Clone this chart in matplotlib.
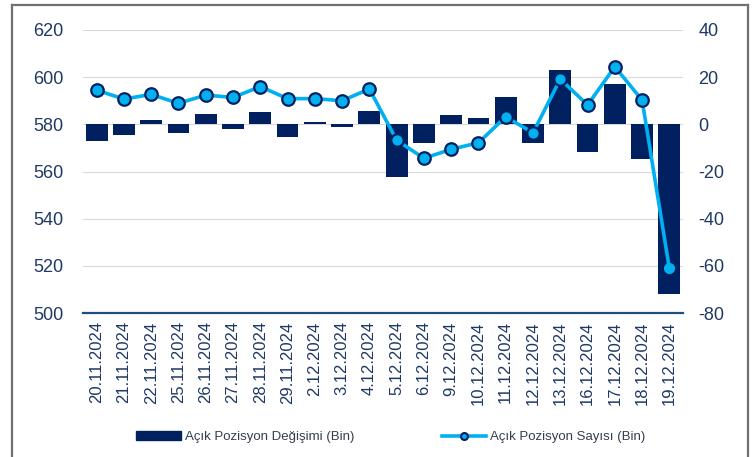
import matplotlib.pyplot as plt
from matplotlib.lines import Line2D
from matplotlib.patches import Patch

DATES = [
    "20.11.2024", "21.11.2024", "22.11.2024", "25.11.2024", "26.11.2024",
    "27.11.2024", "28.11.2024", "29.11.2024", "2.12.2024", "3.12.2024",
    "4.12.2024", "5.12.2024", "6.12.2024", "9.12.2024", "10.12.2024",
    "11.12.2024", "12.12.2024", "13.12.2024", "16.12.2024", "17.12.2024",
    "18.12.2024", "19.12.2024",
]
# Açık Pozisyon Değişimi (Bin) - right axis
CHANGE = [-7.1, -4.4, 2.0, -3.7, 4.5, -2.1, 5.1, -5.5, 1.1, -1.2, 5.6,
          -22.2, -8.1, 3.9, 2.8, 11.7, -7.8, 23.0, -11.6, 17.1, -14.7, -72.0]
# Açık Pozisyon Sayısı (Bin) - left axis
COUNT = [594.5, 590.7, 592.7, 588.9, 592.4, 591.4, 596.0, 590.9, 590.9, 590.0,
         595.0, 573.3, 565.6, 569.4, 572.2, 583.2, 576.4, 599.2, 588.2, 604.4,
         590.3, 518.9]
LEFT_TICKS = [500, 520, 540, 560, 580, 600, 620]
RIGHT_TICKS = [-80, -60, -40, -20, 0, 20, 40]

NAVY = "#002060"
CYAN = "#00B0F0"
TICK_COLOR = "#1F3864"

plt.rcParams["font.family"] = ["Liberation Sans", "DejaVu Sans"]
plt.rcParams["axes.unicode_minus"] = False

fig = plt.figure(figsize=(7.53, 4.57), dpi=100)
ax = fig.add_axes([83 / 753, 1 - 313 / 457, 600 / 753, 283 / 457])
x = list(range(len(DATES)))

# bars on the change axis (tick labels on the right)
ax.bar(x, CHANGE, width=0.8, color=NAVY, zorder=3)
ax.set_ylim(RIGHT_TICKS[0], RIGHT_TICKS[-1])
ax.set_yticks(RIGHT_TICKS)
ax.set_xlim(-0.5, len(DATES) - 0.5)
ax.set_xticks(x, DATES, rotation=90)
ax.yaxis.grid(True, color="#D9D9D9", linewidth=0.8, zorder=0)
ax.set_axisbelow(True)
for side in ["top", "left", "right"]:
    ax.spines[side].set_visible(False)
ax.spines["bottom"].set_color("#1F4E79")
ax.spines["bottom"].set_linewidth(1.6)

# line on the count axis (tick labels on the left)
ax2 = ax.twinx()
ax.yaxis.tick_right()
ax2.yaxis.tick_left()
ax.tick_params(axis="y", length=0, pad=11, labelsize=13, labelcolor=TICK_COLOR)
ax.tick_params(axis="x", length=0, pad=6, labelsize=12, labelcolor=TICK_COLOR)
ax2.set_ylim(LEFT_TICKS[0], LEFT_TICKS[-1])
ax2.set_yticks(LEFT_TICKS)
ax2.tick_params(axis="y", length=0, pad=14, labelsize=13, labelcolor=TICK_COLOR)
for side in ["top", "left", "right", "bottom"]:
    ax2.spines[side].set_visible(False)
ax2.plot(x, COUNT, color=CYAN, linewidth=2.6, marker="o", markersize=9,
         markerfacecolor=CYAN, markeredgecolor=NAVY, markeredgewidth=1.6,
         markevery=list(range(len(x) - 1)), zorder=4)
ax2.plot(x[-1:], COUNT[-1:], linestyle="none", marker="o", markersize=7,
         color=CYAN, zorder=5)

handles = [
    Patch(facecolor=NAVY, edgecolor=NAVY, label="Açık Pozisyon Değişimi (Bin)"),
    Line2D([0], [0], color=CYAN, linewidth=2.6, marker="o", markersize=5,
           markerfacecolor=CYAN, markeredgecolor=NAVY, markeredgewidth=1.5,
           label="Açık Pozisyon Sayısı (Bin)"),
]
fig.legend(handles=handles, ncol=2, loc="center", bbox_to_anchor=(391 / 753, 1 - 437 / 457),
           frameon=False, fontsize=9.5, handlelength=3.4, handleheight=0.6,
           handletextpad=0.3, columnspacing=6.6, labelcolor="#333F50")

# outer frame
frame = dict(color="#707070", linewidth=1.6, transform=fig.transFigure)
fig.add_artist(Line2D([12 / 753, 748 / 753], [1 - 5 / 457] * 2, **frame))
fig.add_artist(Line2D([12 / 753] * 2, [0, 1 - 5 / 457], **frame))
fig.add_artist(Line2D([748 / 753] * 2, [0, 1 - 5 / 457], **frame))

fig.savefig("out.png", dpi=100, facecolor="white")
